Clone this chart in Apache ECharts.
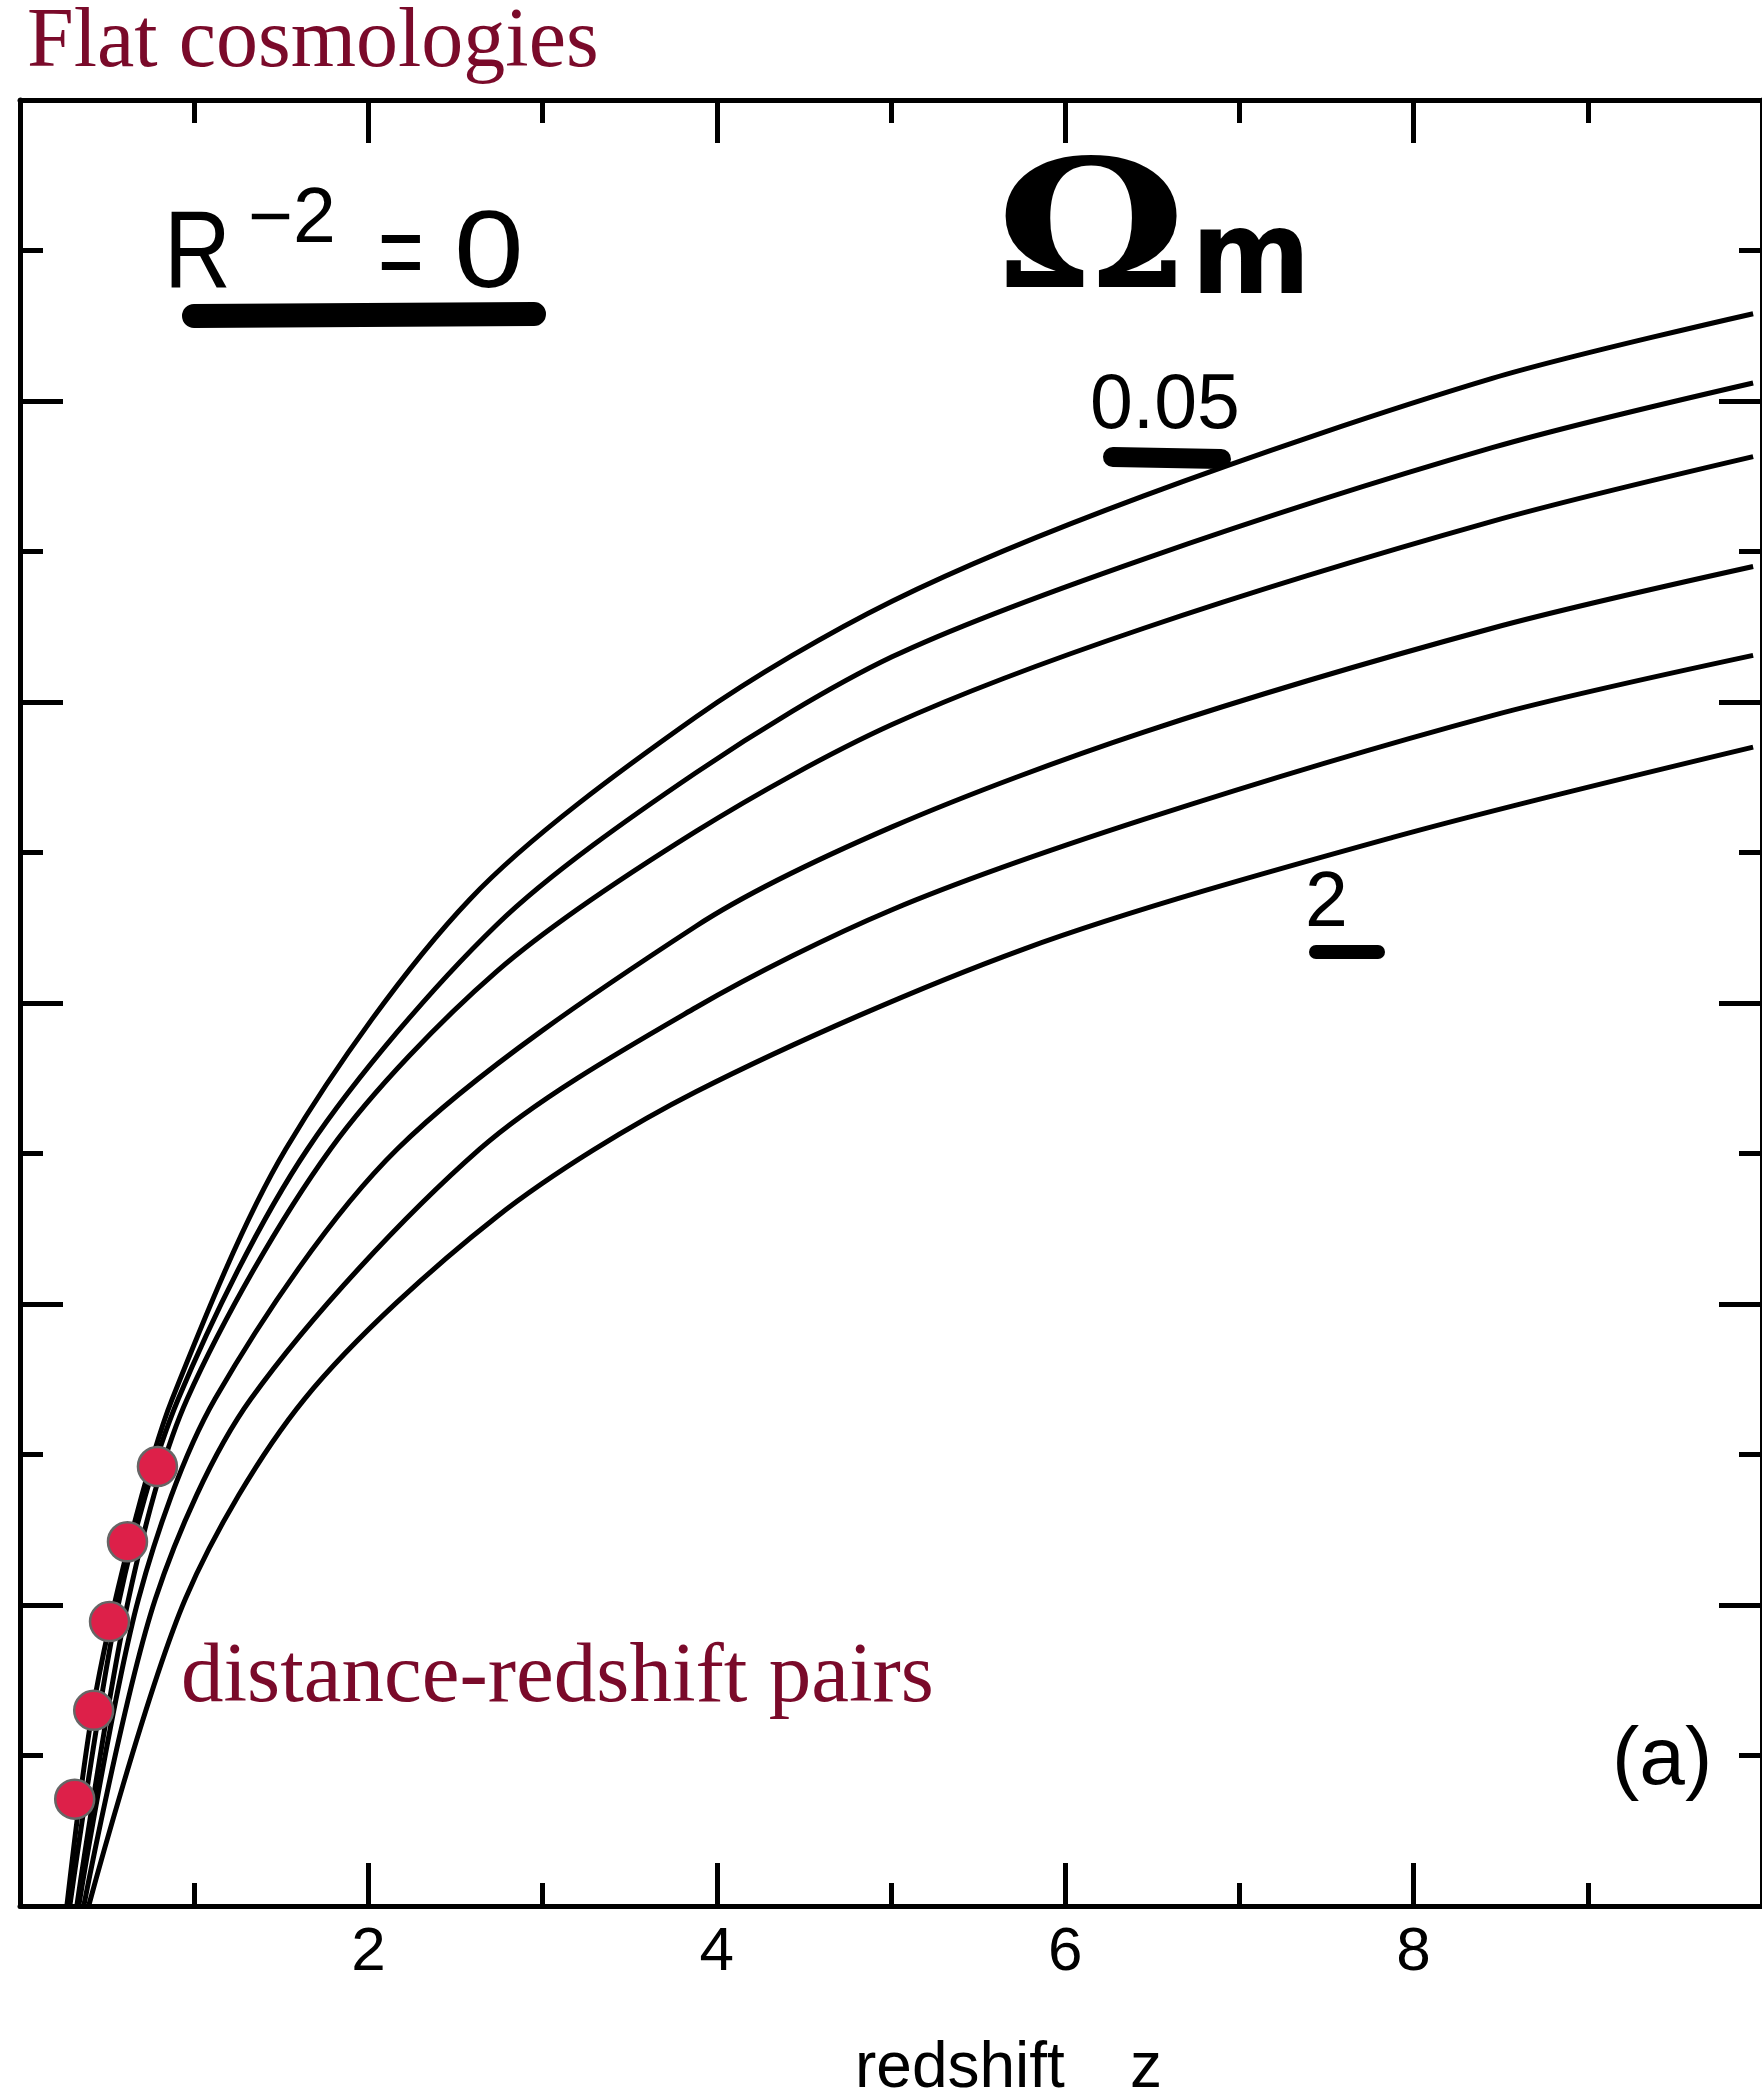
<!DOCTYPE html>
<html>
<head>
<meta charset="utf-8">
<title>Flat cosmologies</title>
<script src="https://cdn.jsdelivr.net/npm/echarts@6/dist/echarts.min.js"></script>
<style>
  html, body { margin: 0; padding: 0; background: #ffffff; }
  #chart { width: 1762px; height: 2100px; }
</style>
</head>
<body>
<div id="chart"></div>
<script>
// Distance versus redshift for flat (R^-2 = 0) models, one curve per matter density.
// Each entry is [redshift z, distance in axis units].
const omega005 = [[0.269, 0], [0.417, 1.30], [0.629, 2.42], [0.874, 3.37], [1.526, 5.03], [2.583, 6.69],
  [3.880, 7.90], [5.006, 8.67], [6.451, 9.37], [8.451, 10.15], [9.949, 10.58]];
const omegaB = [[0.286, 0], [0.571, 2.04], [0.909, 3.37], [1.651, 5.03], [2.737, 6.52], [3.880, 7.53],
  [5.006, 8.30], [6.451, 8.95], [8.451, 9.69], [9.949, 10.12]];
const omegaC = [[0.326, 0], [0.623, 2.04], [0.960, 3.37], [1.783, 5.03], [2.737, 6.21], [3.880, 7.14],
  [5.006, 7.85], [6.451, 8.49], [8.451, 9.20], [9.949, 9.63]];
const omegaD = [[0.337, 0], [0.680, 2.04], [1.120, 3.37], [2.166, 5.03], [3.880, 6.51], [5.006, 7.17],
  [6.451, 7.80], [8.451, 8.49], [9.949, 8.90]];
const omegaE = [[0.366, 0], [0.777, 2.04], [1.326, 3.37], [2.640, 5.03], [3.880, 5.97], [5.006, 6.62],
  [6.451, 7.22], [8.451, 7.91], [9.949, 8.31]];
const omega2 = [[0.394, 0], [0.949, 2.04], [1.634, 3.37], [2.737, 4.58], [3.880, 5.41], [5.766, 6.36],
  [7.880, 7.10], [9.949, 7.70]];

// Measured distance-redshift pairs
const pairZ = [0.314, 0.423, 0.514, 0.617, 0.789];
const pairDist = [0.71, 1.30, 1.89, 2.42, 2.92];

// Labelled redshift ticks
const redshiftTicks = [2, 4, 6, 8];

const curves = [omega005, omegaB, omegaC, omegaD, omegaE, omega2];

const INK = '#000000';
const MAROON = '#7a0a2a';
const SANS = '"Liberation Sans", Arial, sans-serif';
const SERIF = '"Liberation Serif", "Times New Roman", serif';

function frameAxis(pos, isX) {
  const base = {
    type: 'value',
    position: pos,
    min: 0,
    max: isX ? 10 : 12,
    interval: 2,
    axisLine: { show: true, onZero: false, lineStyle: { color: INK, width: 5 } },
    axisTick: { show: true, inside: true, length: 43, lineStyle: { color: INK, width: 5 } },
    minorTick: { show: true, splitNumber: 2, length: 23, lineStyle: { color: INK, width: 5 } },
    splitLine: { show: false },
    minorSplitLine: { show: false },
    axisLabel: { show: false }
  };
  if (isX && pos === 'bottom') {
    base.axisLabel = {
      show: true,
      margin: 16,
      color: INK,
      fontSize: 62,
      fontFamily: SANS,
      showMinLabel: false,
      showMaxLabel: false,
      formatter: v => (redshiftTicks.indexOf(v) >= 0 ? String(v) : '')
    };
  }
  return base;
}

function txt(x, y, text, font, opts) {
  const o = opts || {};
  return {
    type: 'text',
    x: x,
    y: y,
    scaleX: o.scaleX || 1,
    scaleY: 1,
    originX: 0,
    originY: 0,
    z: 50,
    style: {
      text: text,
      font: font,
      fill: o.fill || INK,
      align: 'left',
      verticalAlign: 'middle',
      textAlign: 'left',
      textVerticalAlign: 'middle'
    }
  };
}

function bar(x1, y1, x2, y2, w) {
  return {
    type: 'line',
    z: 50,
    shape: { x1: x1, y1: y1, x2: x2, y2: y2 },
    style: { stroke: INK, lineWidth: w, lineCap: 'round' }
  };
}

const chart = echarts.init(document.getElementById('chart'), null, { renderer: 'canvas', width: 1762, height: 2100 });

const series = curves.map((pts, i) => ({
  type: 'line',
  name: 'curve' + i,
  data: pts,
  xAxisIndex: 0,
  yAxisIndex: 0,
  showSymbol: false,
  symbol: 'none',
  smooth: 0.3,
  silent: true,
  lineStyle: { color: INK, width: 5 },
  z: 3
}));

series.push({
  type: 'scatter',
  name: 'pairs',
  data: pairZ.map((z, i) => [z, pairDist[i]]),
  xAxisIndex: 0,
  yAxisIndex: 0,
  symbol: 'circle',
  symbolSize: 39,
  silent: true,
  itemStyle: { color: '#dd2049', borderColor: '#666666', borderWidth: 2.5, opacity: 1 },
  z: 10
});

chart.setOption({
  animation: false,
  backgroundColor: '#ffffff',
  grid: { left: 20, top: 100, width: 1752, height: 1806, containLabel: false },
  xAxis: [frameAxis('bottom', true), frameAxis('top', true)],
  yAxis: [frameAxis('left', false), frameAxis('right', false)],
  series: series,
  graphic: {
    elements: [
      // heading and annotation in serif
      txt(27, 44, 'Flat cosmologies', '84px ' + SERIF, { fill: MAROON }),
      txt(181, 1679, 'distance-redshift pairs', '85px ' + SERIF, { fill: MAROON }),

      // curvature label
      txt(164, 257, 'R', '109px ' + SANS, { scaleX: 0.85 }),
      txt(248, 221, '\u22122', '77px ' + SANS),
      txt(378, 258, '=', '109px ' + SANS, { scaleX: 0.72 }),
      txt(454, 257, '0', '109px ' + SANS, { scaleX: 1.15 }),
      bar(194, 316, 534, 314, 24),

      // density parameter heading
      txt(996, 241, '\u03A9', 'bold 178px "DejaVu Serif", "DejaVu Sans", serif', { scaleX: 1.2 }),
      txt(1191, 263, 'm', 'bold 115px "DejaVu Sans", sans-serif'),

      // curve labels
      txt(1090, 407, '0.05', '77px ' + SANS),
      bar(1113, 457, 1221, 459, 20),
      txt(1305, 905, '2', '77px ' + SANS),
      bar(1316, 952, 1378, 952, 14),

      // panel tag
      txt(1612, 1761, '(a)', '82px ' + SANS),

      // axis title
      txt(855, 2069, 'redshift', '64px ' + SANS),
      txt(1130, 2069, 'z', '64px ' + SANS)
    ]
  }
});
</script>
</body>
</html>
